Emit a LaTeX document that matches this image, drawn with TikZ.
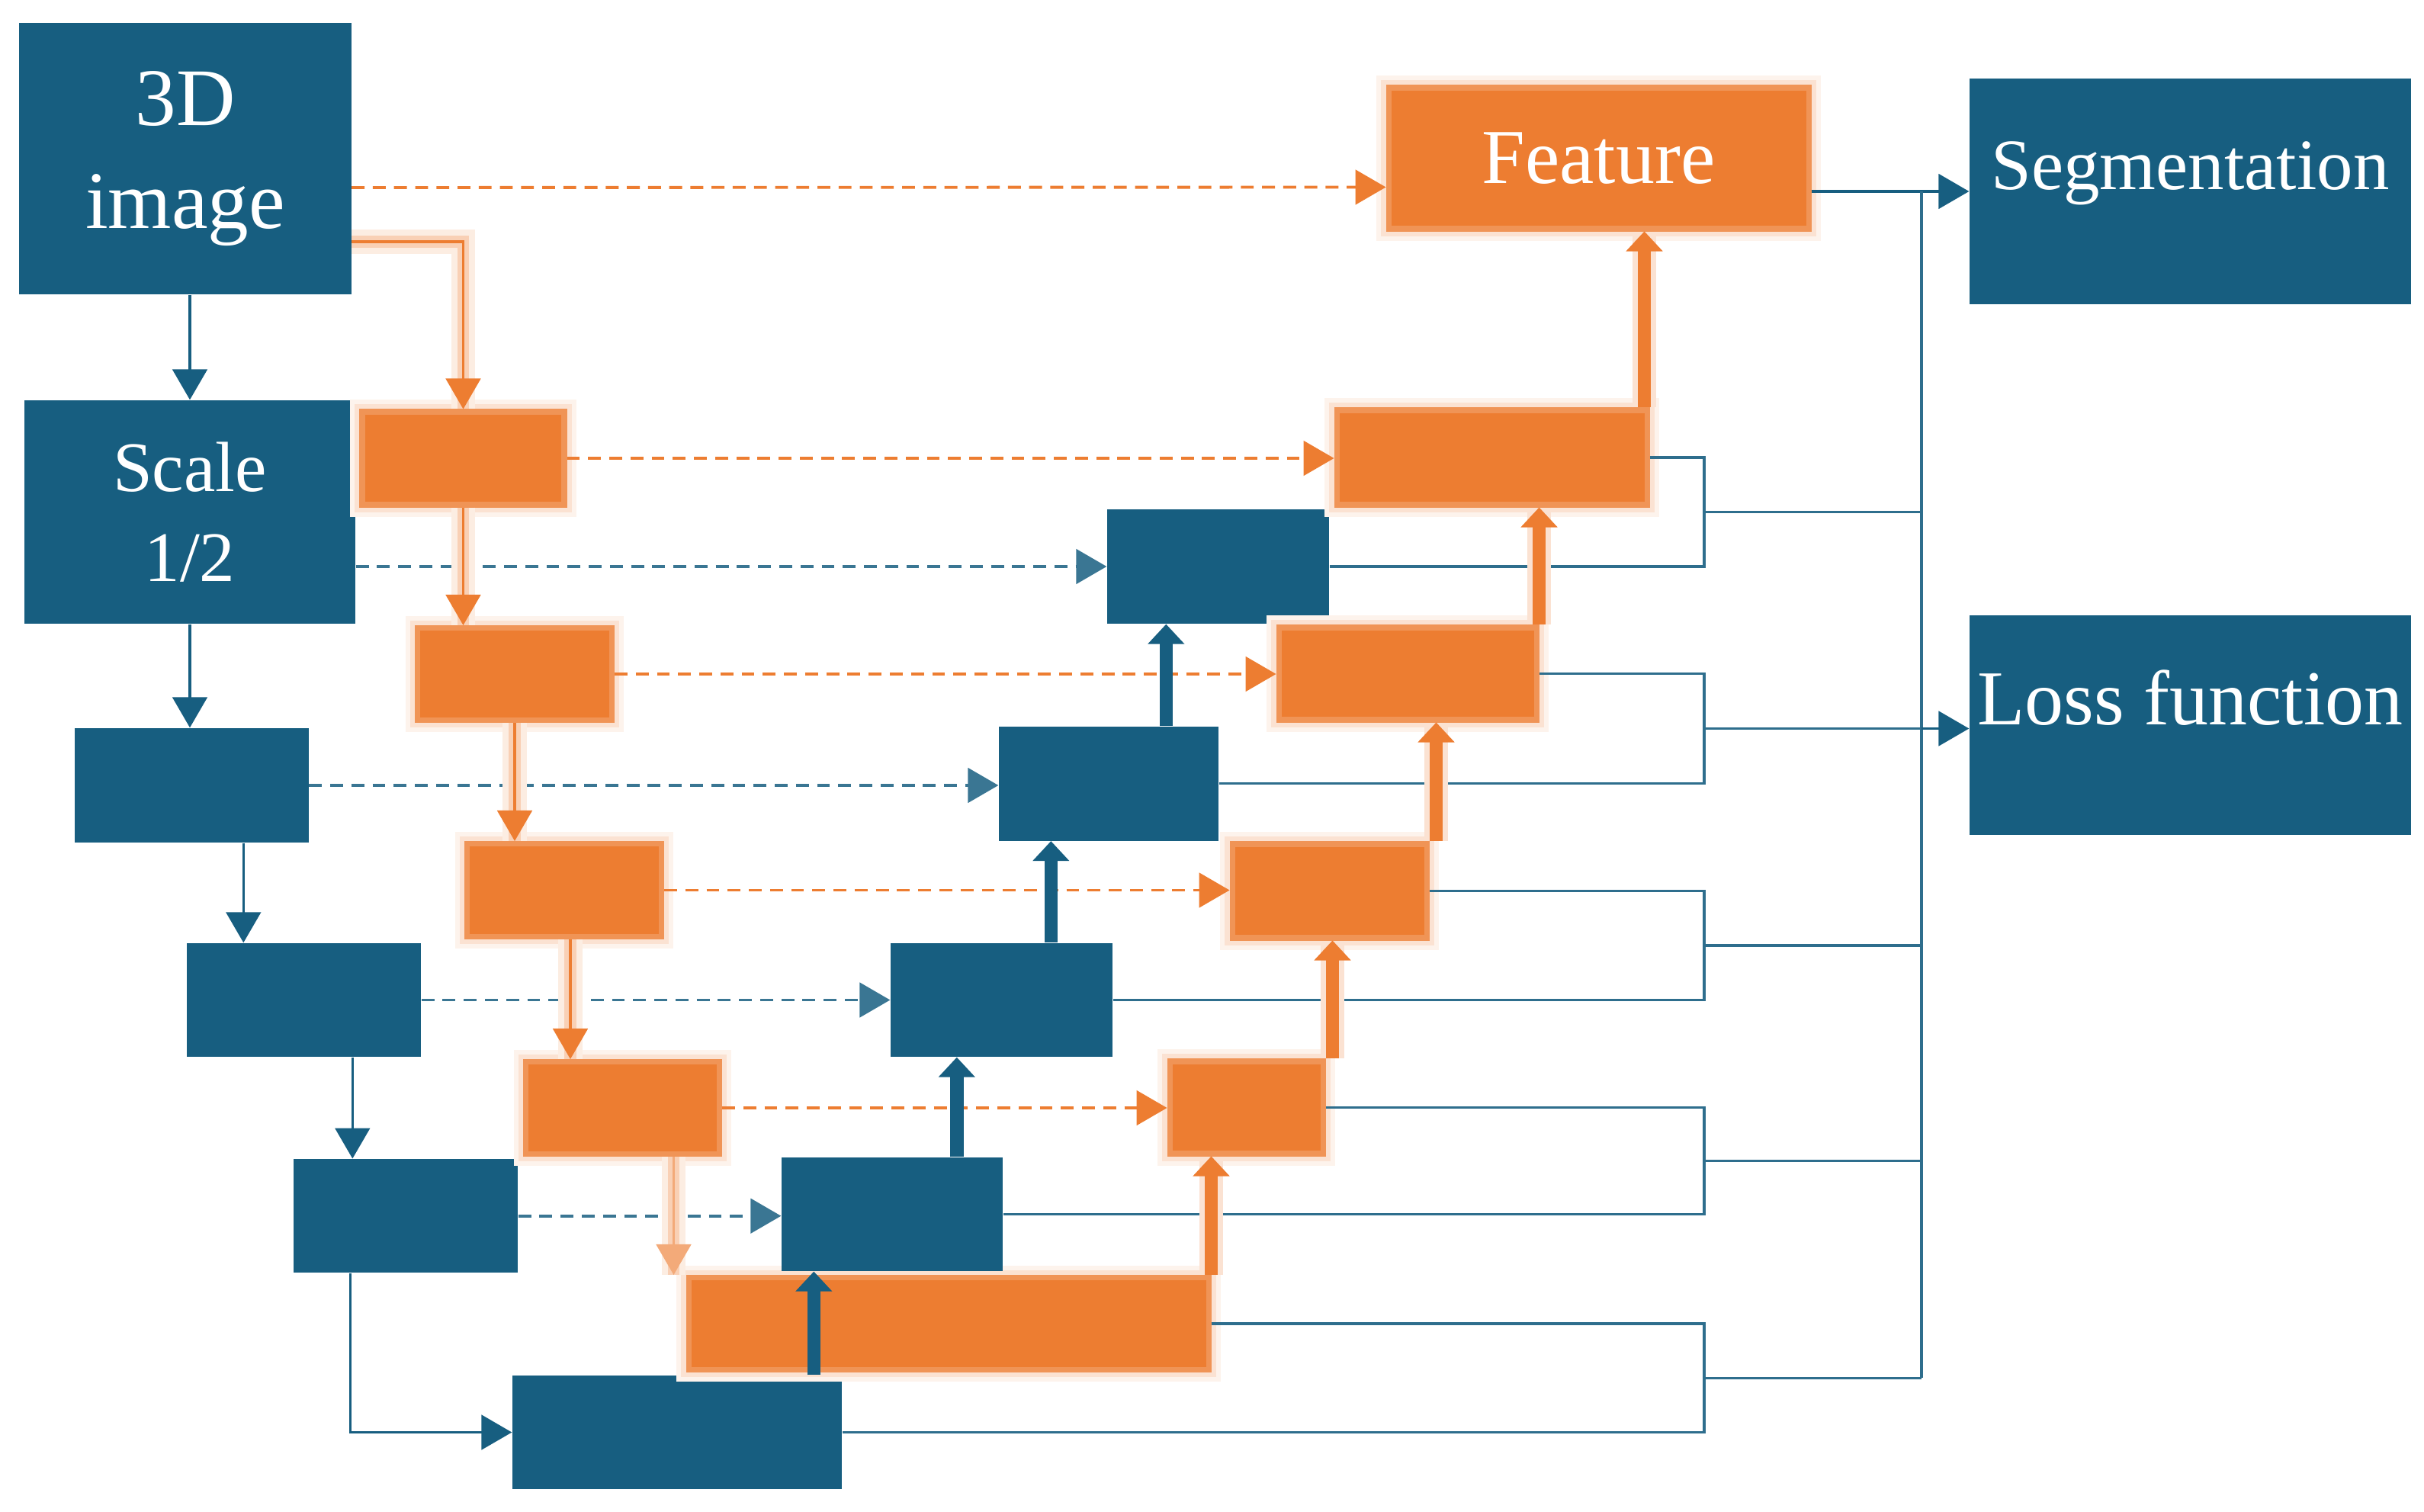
\documentclass[tikz,border=0pt]{standalone}
\usepackage{fontspec}
\setmainfont{Liberation Serif}
\usetikzlibrary{arrows.meta,calc,positioning}
\definecolor{navy}{HTML}{175E80}
\definecolor{amber}{HTML}{ED7D31}
\tikzset{
  bluebox/.style={fill=navy,draw=none,inner sep=0pt,text=white,align=center},
  orangebox/.style={fill=amber,draw=amber!82,line width=2pt,inner sep=0pt,text=white,align=center,
    preaction={draw=amber!9,line width=9pt},preaction={draw=amber!22,line width=5.5pt}},
  arrow/.style={-{Triangle[length=4mm,width=4.6mm,line width=0.5pt]},line width=0.9pt,draw=navy},
  oarrow/.style={-{Triangle[length=4mm,width=4.6mm,line width=0.5pt]},line width=1.1pt,draw=amber,
    preaction={draw=amber!14,line width=9pt,-},preaction={draw=amber!36,line width=4.5pt,-}},
  dasharrow/.style={-{Triangle[length=4mm,width=4.6mm,line width=0.5pt]},line width=1.1pt,dash pattern=on 4.8pt off 3.1pt},
  uparrow/.style={-{Triangle[length=2.6mm,width=4.8mm,line width=0.5pt]},line width=5pt,draw=navy},
  ouparrow/.style={uparrow,draw=amber,preaction={draw=amber!22,line width=9pt,-}},
  wire/.style={line width=0.9pt,draw=navy!90}
}

\begin{document}
\begin{tikzpicture}[
    big/.style={font=\fontsize{29}{35}\selectfont},
    encbox/.style={bluebox,minimum width=3.07cm,minimum height=1.50cm},
    decbox/.style={bluebox,minimum width=2.90cm,minimum height=1.50cm},
    skip/.style={orangebox,minimum height=1.21cm}
  ]
  \useasboundingbox (0,0) rectangle (31.79,19.82);

  % encoder (blue)
  \node[bluebox,minimum width=4.35cm,minimum height=3.56cm,font=\fontsize{30.5}{38.5}\selectfont] (img) at (2.43,17.74) {3D\\image};
  \node[bluebox,minimum width=4.34cm,minimum height=2.93cm,font=\fontsize{26.5}{33.6}\selectfont] (scale) at (2.49,13.105) {Scale\\1/2};
  \node[encbox] (benc2) at (2.51,9.52) {};
  \node[encbox,minimum height=1.49cm] (benc3) at (3.985,6.705) {};
  \node[encbox,minimum width=2.94cm,minimum height=1.49cm] (benc4) at (5.32,3.873) {};
  \node[encbox,minimum width=4.32cm,minimum height=1.49cm] (bbot) at (8.88,1.035) {};

  % encoder (orange)
  \node[skip,minimum width=2.65cm,minimum height=1.22cm] (oenc1) at (6.075,13.81) {};
  \node[skip,minimum width=2.55cm] (oenc2) at (6.75,10.98) {};
  \node[skip,minimum width=2.55cm,minimum height=1.22cm] (oenc3) at (7.40,8.145) {};
  \node[skip,minimum width=2.54cm] (oenc4) at (8.165,5.29) {};
  \node[skip,minimum width=6.82cm] (obot) at (12.44,2.46) {};

  % decoder
  \node[decbox,minimum width=2.91cm] (bdec1) at (15.975,12.39) {};
  \node[decbox,minimum width=2.88cm] (bdec2) at (14.54,9.545) {};
  \node[decbox,minimum width=2.91cm,minimum height=1.49cm] (bdec3) at (13.135,6.705) {};
  \node[decbox,minimum height=1.49cm] (bdec4) at (11.70,3.895) {};
  \node[skip,minimum width=4.07cm,minimum height=1.24cm] (odec1) at (19.565,13.82) {};
  \node[skip,minimum width=3.38cm] (odec2) at (18.46,10.985) {};
  \node[skip,minimum width=2.55cm,minimum height=1.23cm] (odec3) at (17.435,8.135) {};
  \node[skip,minimum width=2.01cm] (odec4) at (16.345,5.295) {};
  \node[orangebox,big,minimum width=5.51cm,minimum height=1.85cm] (feat) at (20.965,17.745) {Feature};

  % outputs
  \node[bluebox,minimum width=5.79cm,minimum height=2.96cm] (seg) at (28.725,17.31) {};
  \node[bluebox,minimum width=5.79cm,minimum height=2.88cm] (loss) at (28.725,10.31) {};
  \node[text=white,font=\fontsize{27}{32}\selectfont] (seglbl) at ([yshift=2.4mm]seg.center) {Segmentation};
  \node[text=white,big] (losslbl) at ([yshift=3.6mm]loss.center) {Loss function};

  \coordinate (brk) at (22.35,0);
  \coordinate (bus) at (25.20,0);

  % skip connections
  \draw[dasharrow,draw=amber] ([yshift=-3.8mm]img.east) -- ([yshift=-3.8mm]feat.west);
  \foreach \a/\b in {oenc1/odec1,oenc2/odec2,oenc3/odec3,oenc4/odec4}
    \draw[dasharrow,draw=amber] (\a.east) -- (\a.east -| \b.west);
  \draw[dasharrow,draw=navy!85] (bdec1.west -| scale.east) -- (bdec1.west);
  \foreach \a/\b in {benc2/bdec2,benc3/bdec3,benc4/bdec4}
    \draw[dasharrow,draw=navy!85] (\a.east) -- (\a.east -| \b.west);

  % outputs to segmentation / loss
  \draw[arrow] (seg.west -| feat.east) -- (seg.west);
  \foreach \o/\b/\n in {odec1/bdec1/1,odec2/bdec2/2,odec3/bdec3/3,odec4/bdec4/4,obot/bbot/5} {
    \draw[wire] (\o.east) -- (\o.east -| brk) -- (\b.east -| brk) -- (\b.east);
    \coordinate (mid\n) at ($(\o.east -| brk)!0.5!(\b.east -| brk)$);
    \draw[wire] (mid\n) -- (mid\n -| bus);
  }
  \draw[wire] (seg.west -| bus) -- (mid5 -| bus);
  \draw[arrow] (mid2 -| bus) -- (mid2 -| loss.west);

  % downsampling
  \draw[arrow] (img.south -| scale.north) -- (scale.north);
  \draw[arrow] (scale.south) -- (scale.south |- benc2.north);
  \draw[arrow] ([xshift=7.5mm]benc3.north west |- benc2.south) -- ([xshift=7.5mm]benc3.north west);
  \draw[arrow] ([xshift=7.8mm]benc4.north west |- benc3.south) -- ([xshift=7.8mm]benc4.north west);
  \draw[arrow] ([xshift=7.5mm]benc4.south west) |- (bbot.west);

  \draw[oarrow] ([yshift=-10.9mm]img.east) -| (oenc1.north);
  \draw[oarrow] (oenc1.south) -- (oenc1.south |- oenc2.north);
  \draw[oarrow] (oenc2.south) -- (oenc2.south |- oenc3.north);
  \draw[oarrow] ([xshift=0.8mm]oenc3.south) -- ([xshift=0.8mm]oenc3.south |- oenc4.north);
  \draw[oarrow,draw=amber!65] ([xshift=-1.6mm]obot.north west |- oenc4.south) -- ([xshift=-1.6mm]obot.north west);

  % upsampling
  \foreach \lo/\hi/\dx in {obot/odec4/0,odec4/odec3/0.9,odec3/odec2/0.9,odec2/odec1/0,odec1/feat/-0.7}
    \draw[ouparrow] ([xshift=\dx mm]\lo.north east) -- ([xshift=\dx mm]\lo.north east |- \hi.south);
  \foreach \lo/\hi/\dx in {bbot/bdec4/4.3,bdec4/bdec3/8.75,bdec3/bdec2/6.9,bdec2/bdec1/7.8}
    \draw[uparrow] ([xshift=\dx mm]\hi.south west |- \lo.north) -- ([xshift=\dx mm]\hi.south west);
\end{tikzpicture}
\end{document}
